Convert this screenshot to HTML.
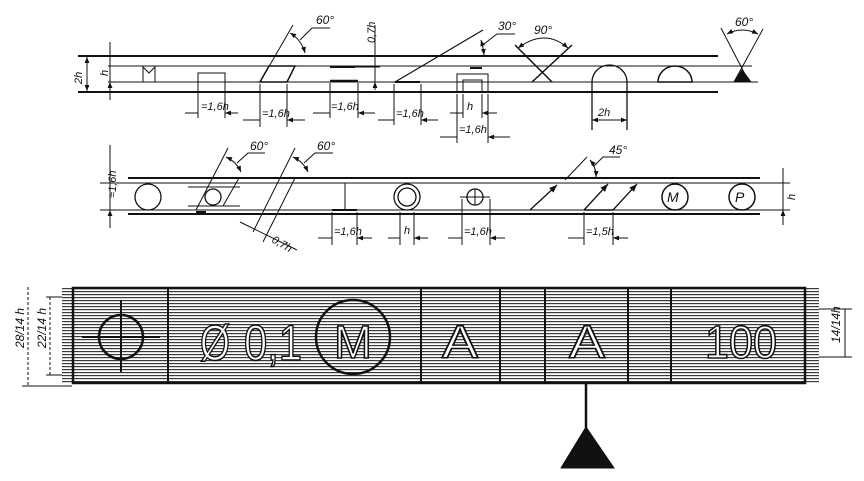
<!DOCTYPE html>
<html><head><meta charset="utf-8"><style>
html,body{margin:0;padding:0;background:#fff;}
svg{display:block;}
text{font-family:"Liberation Sans",sans-serif;font-style:italic;fill:#111;}
text.big{font-style:normal;fill:#fff;stroke:#111;stroke-width:1.6;}
</style></head><body>
<svg width="864" height="481" viewBox="0 0 864 481" xmlns="http://www.w3.org/2000/svg">
<defs>
<pattern id="hp" width="6" height="3" patternUnits="userSpaceOnUse">
<rect width="6" height="3" fill="#fff"/>
<rect y="0" width="6" height="1.2" fill="#3a3a3a"/>
</pattern>
<marker id="a" viewBox="0 0 10 10" refX="10" refY="5" markerWidth="7" markerHeight="6" orient="auto-start-reverse"><path d="M0,1 L10,5 L0,9 z" fill="#111"/></marker>
</defs>
<g stroke="#111" fill="none" stroke-width="1">
<line x1="78" y1="56" x2="718" y2="56" stroke-width="2"/>
<line x1="108" y1="66" x2="752" y2="66"/>
<line x1="108" y1="82" x2="758" y2="82"/>
<line x1="78" y1="92" x2="718" y2="92" stroke-width="2"/>
<line x1="87" y1="57" x2="87" y2="91" marker-start="url(#a)" marker-end="url(#a)"/>
<line x1="110" y1="42" x2="110" y2="100"/>
<path d="M110,58 L110,66 M110,90 L110,82" marker-end="url(#a)"/>
<path d="M143,82 L143,67 L149,73 L155,67 L155,82"/>
<path d="M198,118 L198,73 L225,73 L225,118"/>
<path d="M185,113 L198,113 M238,113 L225,113" marker-end="url(#a)"/>
<path d="M260,82 L269,66 L295,66 L287,82 z" stroke-width="1.5"/>
<line x1="260" y1="82" x2="293" y2="25"/>
<path d="M290,33 A33,33 0 0 1 305,53" marker-start="url(#a)" marker-end="url(#a)"/>
<path d="M300,40 L312,28 L330,28"/>
<path d="M260,84 L260,127 M287,84 L287,127"/>
<path d="M243,120 L260,120 M305,120 L287,120" marker-end="url(#a)"/>
<line x1="330" y1="67" x2="355" y2="67" stroke-width="2"/>
<line x1="330" y1="81" x2="358" y2="81" stroke-width="2.5"/>
<line x1="355" y1="67" x2="380" y2="67"/>
<line x1="375" y1="25" x2="375" y2="90"/>
<path d="M375,58 L375,66 M375,90 L375,82" marker-end="url(#a)"/>
<path d="M330,83 L330,118 M358,83 L358,118"/>
<path d="M313,113 L330,113 M375,113 L358,113" marker-end="url(#a)"/>
<path d="M395,82 L483,30" stroke-width="1.2"/>
<line x1="395" y1="82" x2="420" y2="82" stroke-width="2"/>
<path d="M481,40 A80,80 0 0 1 484,55" marker-start="url(#a)" marker-end="url(#a)"/>
<path d="M484,44 L497,34 L515,34"/>
<path d="M394,84 L394,125 M421,84 L421,125"/>
<path d="M378,120 L394,120 M438,120 L421,120" marker-end="url(#a)"/>
<line x1="470" y1="68" x2="482" y2="68" stroke-width="2"/>
<path d="M457,92 L457,74 L488,74 L488,92"/>
<path d="M463,92 L463,80 L482,80 L482,92"/>
<path d="M463,94 L463,118 M482,94 L482,118 M457,94 L457,143 M488,94 L488,143"/>
<path d="M450,113 L463,113 M497,113 L482,113" marker-end="url(#a)"/>
<path d="M440,137 L457,137 M510,137 L488,137" marker-end="url(#a)"/>
<line x1="515" y1="45" x2="552" y2="82" stroke-width="1.5"/>
<line x1="572" y1="45" x2="532" y2="82" stroke-width="1.5"/>
<path d="M518,48 Q545,28 568,48" marker-start="url(#a)" marker-end="url(#a)"/>
<path d="M592,130 L592,82 A17.5,17 0 0 1 627,82 L627,130" stroke-width="1.3"/>
<path d="M592,120 L627,120" marker-start="url(#a)" marker-end="url(#a)"/>
<path d="M658,82 A17,16 0 0 1 692,82 z" stroke-width="1.5"/>
<line x1="721" y1="28" x2="749" y2="82"/>
<line x1="763" y1="29" x2="734" y2="82"/>
<path d="M727,34 Q742,26 758,34" marker-start="url(#a)" marker-end="url(#a)"/>
<path d="M742,70 L734,82 L751,82 z" fill="#111"/>

<line x1="128" y1="178" x2="760" y2="178" stroke-width="2"/>
<line x1="100" y1="183" x2="790" y2="183"/>
<line x1="100" y1="210" x2="790" y2="210"/>
<line x1="128" y1="214" x2="760" y2="214" stroke-width="2"/>
<line x1="110" y1="145" x2="110" y2="228"/>
<path d="M110,170 L110,183 M110,224 L110,210" marker-end="url(#a)"/>
<circle cx="148" cy="197" r="13" stroke-width="1.3"/>
<circle cx="213" cy="197" r="8" stroke-width="1.3"/>
<path d="M188,187 L240,187 M188,206 L240,206"/>
<line x1="196" y1="210" x2="228" y2="148"/>
<line x1="223" y1="206" x2="239" y2="178"/>
<line x1="196" y1="212" x2="206" y2="212" stroke-width="2"/>
<path d="M226,157 A30,30 0 0 1 241,172" marker-start="url(#a)" marker-end="url(#a)"/>
<path d="M237,163 L248,153 L265,153"/>
<line x1="253" y1="232" x2="295" y2="148"/>
<line x1="263" y1="242" x2="295" y2="178"/>
<path d="M293,157 A30,30 0 0 1 308,172" marker-start="url(#a)" marker-end="url(#a)"/>
<path d="M304,163 L315,153 L333,153"/>
<line x1="240" y1="222" x2="297" y2="250"/>
<line x1="345" y1="183" x2="345" y2="210"/>
<line x1="332" y1="210" x2="357" y2="210" stroke-width="2"/>
<path d="M332,212 L332,245 M357,212 L357,245"/>
<path d="M318,238 L332,238 M372,238 L357,238" marker-end="url(#a)"/>
<circle cx="407" cy="197" r="13" stroke-width="1.3"/>
<circle cx="407" cy="197" r="9" stroke-width="1.3"/>
<path d="M400,212 L400,245 M414,212 L414,245"/>
<path d="M388,238 L400,238 M428,238 L414,238" marker-end="url(#a)"/>
<circle cx="475" cy="197" r="8" stroke-width="1.3"/>
<path d="M460,197 L490,197 M475,189 L475,205"/>
<path d="M462,199 L462,245 M490,199 L490,245"/>
<path d="M448,238 L462,238 M505,238 L490,238" marker-end="url(#a)"/>
<line x1="530" y1="210" x2="557" y2="185" marker-end="url(#a)" stroke-width="1.3"/>
<line x1="584" y1="210" x2="608" y2="184" marker-end="url(#a)" stroke-width="1.3"/>
<line x1="613" y1="210" x2="637" y2="184" marker-end="url(#a)" stroke-width="1.3"/>
<line x1="584" y1="210" x2="613" y2="210" stroke-width="1.5"/>
<line x1="565" y1="180" x2="587" y2="157"/>
<path d="M590,160 A25,25 0 0 1 596,177" marker-start="url(#a)" marker-end="url(#a)"/>
<path d="M594,166 L603,157 L620,157"/>
<path d="M584,212 L584,245 M613,212 L613,245"/>
<path d="M568,238 L584,238 M628,238 L613,238" marker-end="url(#a)"/>
<circle cx="675" cy="197" r="13" stroke-width="1.5"/>
<circle cx="742" cy="197" r="13" stroke-width="1.5"/>
<line x1="783" y1="168" x2="783" y2="225"/>
<path d="M783,172 L783,183 M783,221 L783,210" marker-end="url(#a)"/>
</g>
<g font-size="11">
<text x="70" y="84" transform="rotate(-90 76 78)">2h</text>
<text x="98" y="74" transform="rotate(-90 104 70)">h</text>
<text x="201" y="110">=1,6h</text>
<text x="262" y="117">=1,6h</text>
<text x="331" y="110">=1,6h</text>
<text x="396" y="117">=1,6h</text>
<text x="467" y="110">h</text>
<text x="459" y="133">=1,6h</text>
<text x="598" y="116">2h</text>
<text x="358" y="38" transform="rotate(-90 369 32)">0,7h</text>
<text x="316" y="24" font-size="12">60°</text>
<text x="498" y="30" font-size="12">30°</text>
<text x="534" y="34" font-size="12">90°</text>
<text x="735" y="26" font-size="12">60°</text>
<text x="92" y="198" transform="rotate(-90 104 186)">≈1,6h</text>
<text x="250" y="150" font-size="12">60°</text>
<text x="317" y="150" font-size="12">60°</text>
<text x="273" y="246" transform="rotate(30 280 240)">0,7h</text>
<text x="334" y="235">=1,6h</text>
<text x="404" y="234">h</text>
<text x="464" y="235">=1,6h</text>
<text x="586" y="235">=1,5h</text>
<text x="609" y="154" font-size="12">45°</text>
<text x="667" y="202" font-style="normal" font-size="14">M</text>
<text x="735" y="202" font-style="normal" font-size="14">P</text>
<text x="787" y="202" transform="rotate(-90 790 197)">h</text>
</g>

<rect x="62" y="288" width="757" height="95" fill="url(#hp)"/>
<g stroke="#111" fill="none">
<rect x="73" y="288" width="732" height="95" stroke-width="2.5"/>
<path d="M168,288 L168,383 M421,288 L421,383 M500,288 L500,383 M545,288 L545,383 M628,288 L628,383 M671,288 L671,383" stroke-width="2"/>
<circle cx="121" cy="337" r="22" stroke-width="2.5"/>
<path d="M82,337 L160,337 M121,300 L121,372" stroke-width="2"/>
<circle cx="353" cy="337" r="37" stroke-width="2.5"/>
<line x1="586" y1="383" x2="586" y2="428" stroke-width="2.5"/>
<path d="M586,427 L561,468 L614,468 z" fill="#111" stroke-width="1"/>
<line x1="28" y1="287" x2="28" y2="386" stroke-dasharray="3,2"/>
<line x1="22" y1="386" x2="72" y2="386"/>
<line x1="50" y1="297" x2="50" y2="375" stroke-dasharray="3,2"/>
<path d="M46,375 L62,375 M46,297 L62,297"/>
<path d="M819,309 L852,309 M819,357 L852,357"/>
<line x1="845" y1="309" x2="845" y2="357"/>
</g>
<g font-size="12">
<text x="8" y="340" transform="rotate(-90 20 336)">28/14 h</text>
<text x="30" y="340" transform="rotate(-90 42 336)">22/14 h</text>
<text x="826" y="337" transform="rotate(-90 836 333)">14/14h</text>
</g>
<g font-size="50">
<text class="big" x="200" y="360" textLength="30" lengthAdjust="spacingAndGlyphs">Ø</text>
<text class="big" x="244" y="360" textLength="58" lengthAdjust="spacingAndGlyphs">0,1</text>
<text class="big" x="334" y="358" textLength="38" lengthAdjust="spacingAndGlyphs" font-size="46">M</text>
<text class="big" x="442" y="358" textLength="36" lengthAdjust="spacingAndGlyphs" font-size="46">A</text>
<text class="big" x="569" y="358" textLength="36" lengthAdjust="spacingAndGlyphs" font-size="46">A</text>
<text class="big" x="705" y="358" textLength="72" lengthAdjust="spacingAndGlyphs" font-size="46">100</text>
</g>
</svg>
</body></html>
